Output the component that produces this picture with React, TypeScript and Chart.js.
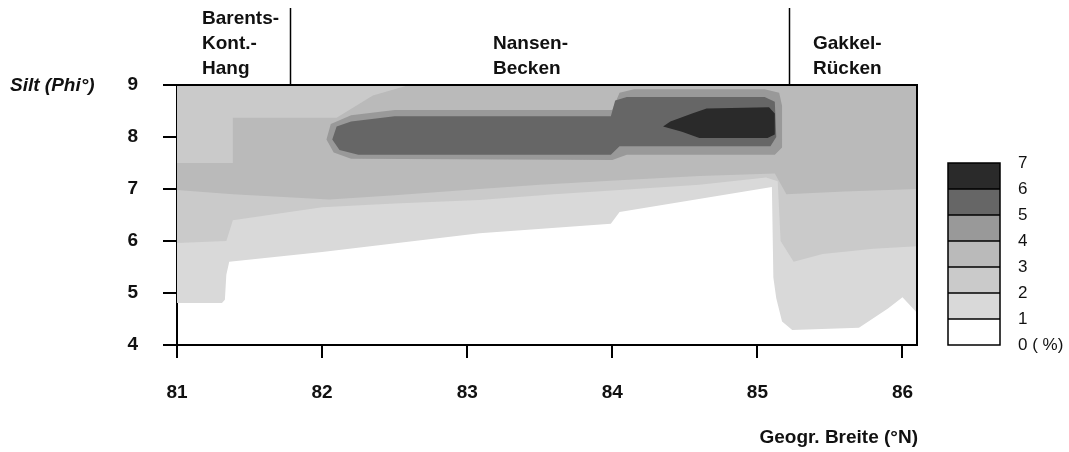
import React, { useEffect, useRef } from "react";
import { Chart, registerables } from "chart.js";

Chart.register(...registerables);

// ---------- data ----------
const latTicks = [81, 82, 83, 84, 85, 86];
const phiTicks = [4, 5, 6, 7, 8, 9];
const latMin = 81;
const latMax = 86.1;
const phiMin = 4;
const phiMax = 9;

const regionBoundaries = [81.78, 85.22];
const regionNames = [
  ["Barents-", "Kont.-", "Hang"],
  ["Nansen-", "Becken"],
  ["Gakkel-", "Rücken"],
];

const legendLabels = ["0 ( %)", "1", "2", "3", "4", "5", "6", "7"];
const levelColors = ["#ffffff", "#d9d9d9", "#cacaca", "#bababa", "#999999", "#666666", "#2a2a2a"];

// contour regions: [latitude °N, phi]
const contour1: number[][] = [
  [81, 9], [86.1, 9], [86.1, 4.62], [86.0, 4.92], [85.9, 4.7], [85.7, 4.33], [85.24, 4.29],
  [85.17, 4.45], [85.13, 4.9], [85.11, 5.3], [85.1, 7.04], [84.05, 6.56], [83.99, 6.33],
  [83.085, 6.15], [82.0, 5.79], [81.36, 5.6], [81.34, 5.35], [81.33, 4.87], [81.31, 4.81], [81, 4.81],
];
const contour2: number[][] = [
  [81, 9], [86.1, 9], [86.1, 5.9], [85.8, 5.85], [85.45, 5.75], [85.25, 5.6], [85.16, 6.0],
  [85.14, 7.15], [85.06, 7.22], [84.6, 7.08], [84.05, 6.98], [83.6, 6.9], [83.085, 6.79],
  [82.5, 6.72], [82.0, 6.65], [81.385, 6.4], [81.34, 6.0], [81, 5.96],
];
const contour3: number[][] = [
  [81, 7.5], [81.385, 7.5], [81.385, 8.37], [82.1, 8.37], [82.35, 8.8], [82.6, 9], [86.1, 9],
  [86.1, 7.0], [85.6, 6.95], [85.2, 6.9], [85.12, 7.3], [84.6, 7.25], [84.05, 7.17], [83.5, 7.08],
  [83.085, 7.0], [82.5, 6.88], [82.05, 6.8], [81.385, 6.9], [81, 6.98],
];
const contour4: number[][] = [
  [82.03, 7.95], [82.06, 8.25], [82.2, 8.42], [82.5, 8.52], [84.0, 8.52], [84.05, 8.85],
  [84.15, 8.92], [85.05, 8.92], [85.15, 8.85], [85.17, 8.6], [85.17, 7.8], [85.12, 7.66],
  [84.1, 7.66], [84.0, 7.56], [82.2, 7.58], [82.08, 7.7],
];
const contour5: number[][] = [
  [82.07, 7.95], [82.1, 8.2], [82.2, 8.3], [82.5, 8.4], [83.99, 8.4], [84.02, 8.7], [84.1, 8.77],
  [85.05, 8.77], [85.12, 8.68], [85.13, 8.0], [85.09, 7.82], [84.05, 7.82], [83.99, 7.66],
  [82.25, 7.66], [82.12, 7.75],
];
const contour6: number[][] = [
  [84.4, 8.3], [84.55, 8.45], [84.65, 8.55], [85.08, 8.57], [85.12, 8.45], [85.12, 8.05],
  [85.07, 7.98], [84.6, 7.98], [84.48, 8.1], [84.35, 8.2],
];
const contours = [contour1, contour2, contour3, contour4, contour5, contour6];

const FONT = '"Liberation Sans", Arial, Helvetica, sans-serif';

const overlayPlugin = {
  id: "overlay",
  afterDraw(chart: any) {
    const ctx = chart.ctx as CanvasRenderingContext2D;
    const { left, right, top, bottom } = chart.chartArea;
    const xs = chart.scales.x;
    ctx.save();
    // frame top/right
    ctx.strokeStyle = "#000";
    ctx.lineWidth = 2;
    ctx.beginPath();
    ctx.moveTo(left, top);
    ctx.lineTo(right, top);
    ctx.lineTo(right, bottom);
    ctx.stroke();

    // region boundaries
    ctx.lineWidth = 1.5;
    regionBoundaries.forEach((v) => {
      const px = Math.round(xs.getPixelForValue(v)) + 0.5;
      ctx.beginPath();
      ctx.moveTo(px, 8);
      ctx.lineTo(px, top);
      ctx.stroke();
    });

    // region headers
    ctx.fillStyle = "#111";
    ctx.font = `bold 19px ${FONT}`;
    ctx.textBaseline = "middle";
    ctx.textAlign = "left";
    const headerX = [202, 493, 813];
    regionNames.forEach((lines, i) => {
      const startY = 69 - 25 * (lines.length - 1);
      lines.forEach((t, j) => ctx.fillText(t, headerX[i], startY + 25 * j));
    });

    // axis titles
    ctx.font = `italic bold 19px ${FONT}`;
    ctx.fillText("Silt (Phi°)", 10, 86);
    ctx.font = `bold 19px ${FONT}`;
    ctx.textAlign = "right";
    ctx.fillText("Geogr. Breite (°N)", 918, 438);

    // colour legend
    const lx = 948, lw = 52, lTop = 163, lBottom = 345;
    const n = legendLabels.length - 1;
    const band = (lBottom - lTop) / n;
    for (let i = 0; i < n; i++) {
      const y0 = lBottom - band * (i + 1);
      ctx.fillStyle = levelColors[i];
      ctx.fillRect(lx, y0, lw, band);
    }
    ctx.strokeStyle = "#000";
    ctx.lineWidth = 1.5;
    ctx.strokeRect(lx, lTop, lw, lBottom - lTop);
    for (let i = 1; i < n; i++) {
      const y = lBottom - band * i;
      ctx.beginPath();
      ctx.moveTo(lx, y);
      ctx.lineTo(lx + lw, y);
      ctx.stroke();
    }
    ctx.fillStyle = "#111";
    ctx.font = `17px ${FONT}`;
    ctx.textAlign = "left";
    legendLabels.forEach((t, k) => {
      ctx.fillText(t, 1018, lBottom - band * k);
    });
    ctx.restore();
  },
};

export default function App() {
  const ref = useRef<HTMLCanvasElement | null>(null);
  useEffect(() => {
    if (!ref.current) return;
    const datasets = contours.map((poly, i) => ({
      label: `>= ${i + 1} %`,
      data: poly.map(([x, y]) => ({ x, y })),
      showLine: true,
      fill: "shape" as any,
      backgroundColor: levelColors[i + 1],
      borderColor: levelColors[i + 1],
      borderWidth: 0,
      pointRadius: 0,
      tension: 0,
      order: contours.length - i,
    }));
    const chart = new Chart(ref.current, {
      type: "scatter",
      data: { datasets },
      options: {
        animation: false,
        responsive: false,
        devicePixelRatio: 1,
        layout: { padding: { left: 0, top: 85, right: 152, bottom: 0 } },
        plugins: { legend: { display: false }, tooltip: { enabled: false } },
        scales: {
          x: {
            type: "linear",
            min: latMin,
            max: latMax,
            afterBuildTicks: (s: any) => {
              s.ticks = latTicks.map((v) => ({ value: v }));
            },
            afterFit: (s: any) => {
              s.height = 107;
            },
            grid: { drawOnChartArea: false, drawTicks: true, tickLength: 13, color: "#000", lineWidth: 2 },
            border: { display: true, color: "#000", width: 2 },
            ticks: {
              padding: 23,
              color: "#111",
              font: { family: FONT, size: 19, weight: "bold" },
              maxRotation: 0,
            },
          },
          y: {
            type: "linear",
            min: phiMin,
            max: phiMax,
            afterBuildTicks: (s: any) => {
              s.ticks = phiTicks.map((v) => ({ value: v }));
            },
            afterFit: (s: any) => {
              s.width = 177;
            },
            grid: { drawOnChartArea: false, drawTicks: true, tickLength: 14, color: "#000", lineWidth: 2 },
            border: { display: true, color: "#000", width: 2 },
            ticks: {
              padding: 25,
              color: "#111",
              font: { family: FONT, size: 19, weight: "bold" },
            },
          },
        },
      },
      plugins: [overlayPlugin],
    });
    return () => chart.destroy();
  }, []);
  return (
    <div style={{ position: "absolute", left: 0, top: 0, width: 1069, height: 452, background: "#fff" }}>
      <canvas ref={ref} width={1069} height={452} style={{ width: 1069, height: 452, display: "block" }} />
    </div>
  );
}
